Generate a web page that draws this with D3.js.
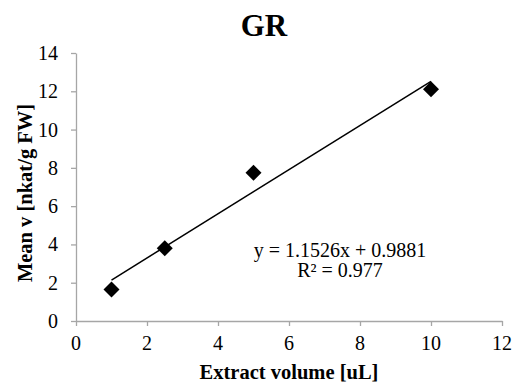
<!DOCTYPE html>
<html>
<head>
<meta charset="utf-8">
<script src="https://cdn.jsdelivr.net/npm/d3@7"></script>
<style>
  body { margin: 0; background: #fff; }
  svg text { font-family: "Liberation Serif", "Times New Roman", serif; fill: #000; }
</style>
</head>
<body>
<svg id="svg" width="514" height="387"></svg>
<script>
// data
const volumes = [1, 2.5, 5, 10];
const meanV = [1.65, 3.8, 7.75, 12.1];
const xTicks = [0, 2, 4, 6, 8, 10, 12];
const yTicks = [0, 2, 4, 6, 8, 10, 12, 14];
const slope = 1.1526;
const intercept = 0.9881;
const equationLines = ["y = 1.1526x + 0.9881", "R\u00B2 = 0.977"];

let svg = d3.select("#svg");
const width = 514, height = 387;
const margin = { top: 53, right: 12, bottom: 66, left: 76 };

let xScale = d3.scaleLinear().domain([0, 12]).range([margin.left, width - margin.right]);
let yScale = d3.scaleLinear().domain([0, 14]).range([height - margin.bottom, margin.top]);

const axisColor = "#a6a6a6";

// axes: lines and ticks from d3, labels drawn separately below
let xAxis = svg.append("g")
    .attr("transform", "translate(0," + yScale(0) + ")")
    .call(d3.axisBottom(xScale).tickValues(xTicks).tickSize(5).tickSizeOuter(0).tickFormat(""));
let yAxis = svg.append("g")
    .attr("transform", "translate(" + xScale(0) + ",0)")
    .call(d3.axisLeft(yScale).tickValues(yTicks).tickSize(5).tickSizeOuter(0).tickFormat(""));

[xAxis, yAxis].forEach(ax => {
    ax.select(".domain").attr("stroke", axisColor).attr("stroke-width", 1.3);
    ax.selectAll(".tick line").attr("stroke", axisColor).attr("stroke-width", 1.3);
    ax.selectAll(".tick text").remove();
});

// tick labels
svg.append("g").selectAll("text")
    .data(xTicks)
    .enter().append("text")
    .attr("x", d => xScale(d))
    .attr("y", 350)
    .attr("text-anchor", "middle")
    .attr("font-size", 20)
    .text(d => d);

svg.append("g").selectAll("text")
    .data(yTicks)
    .enter().append("text")
    .attr("x", 58)
    .attr("y", d => yScale(d) + 7)
    .attr("text-anchor", "end")
    .attr("font-size", 20)
    .text(d => d);

// trend line
let trend = [1, 10].map(x => ({ x: x, y: slope * x + intercept }));
svg.append("path")
    .datum(trend)
    .attr("d", d3.line().x(d => xScale(d.x)).y(d => yScale(d.y)))
    .attr("stroke", "#000")
    .attr("stroke-width", 1.5)
    .attr("fill", "none");

// diamond markers
svg.selectAll(".pt")
    .data(volumes.map((v, i) => ({ x: v, y: meanV[i] })))
    .enter().append("path")
    .attr("class", "pt")
    .attr("transform", d => "translate(" + xScale(d.x) + "," + yScale(d.y) + ")")
    .attr("d", "M0,-8L8,0L0,8L-8,0Z")
    .attr("fill", "#000");

// equation
svg.selectAll(".eq")
    .data(equationLines)
    .enter().append("text")
    .attr("class", "eq")
    .attr("x", 340)
    .attr("y", (d, i) => 257 + i * 20)
    .attr("text-anchor", "middle")
    .attr("font-size", 20)
    .text(d => d);

// title
svg.append("text")
    .attr("x", 264)
    .attr("y", 36)
    .attr("text-anchor", "middle")
    .attr("font-size", 31)
    .attr("font-weight", "bold")
    .text("GR");

// axis titles
svg.append("text")
    .attr("x", (xScale(0) + xScale(12)) / 2)
    .attr("y", 379)
    .attr("text-anchor", "middle")
    .attr("font-size", 20.5)
    .attr("font-weight", "bold")
    .text("Extract volume [uL]");

svg.append("text")
    .attr("transform", "translate(32,193) rotate(-90)")
    .attr("text-anchor", "middle")
    .attr("font-size", 20.5)
    .attr("font-weight", "bold")
    .text("Mean v [nkat/g FW]");
</script>
</body>
</html>
